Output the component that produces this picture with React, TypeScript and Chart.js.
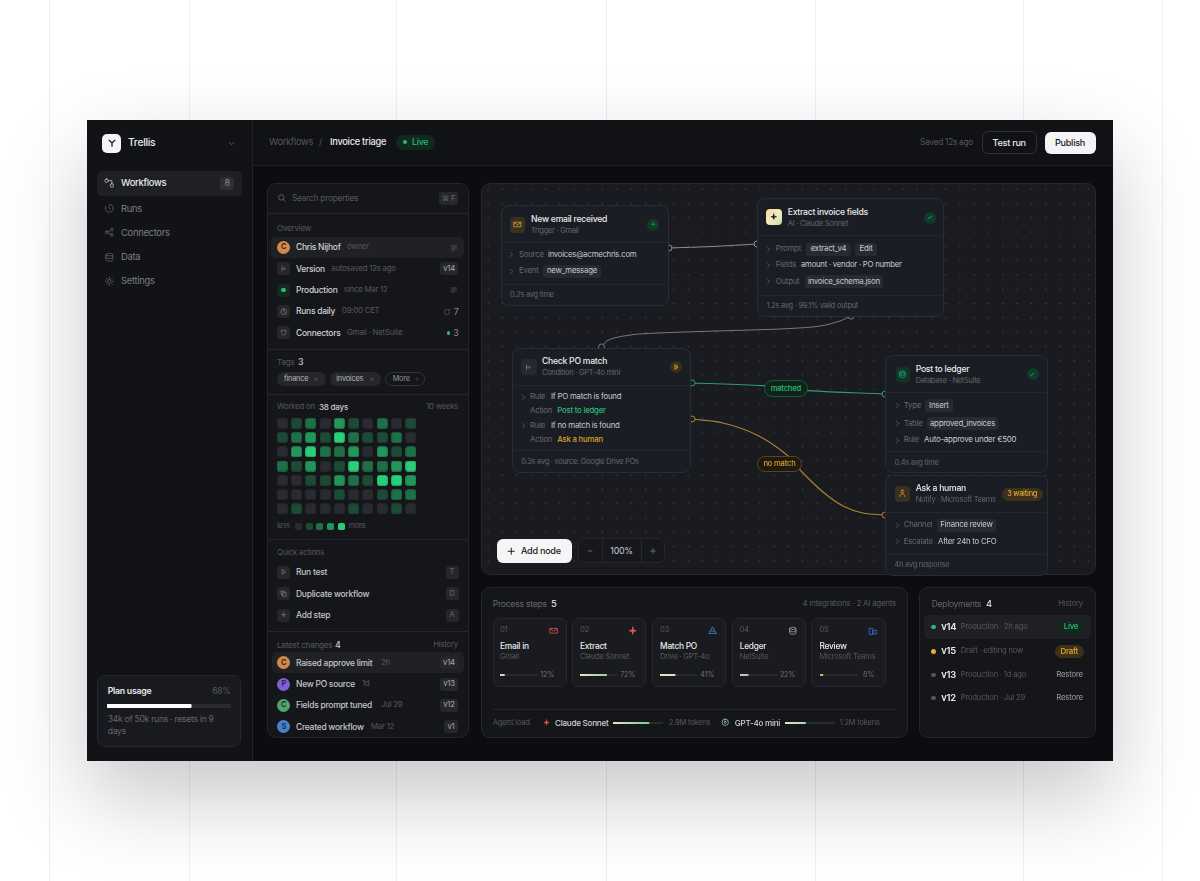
import React, { useEffect, useRef } from "react";
import { Chart, registerables } from "chart.js";
Chart.register(...registerables);

// ---------- data ----------
const heatLevels = [
  [0, 1, 2, 0, 3, 1, 0, 2, 0, 1],
  [1, 2, 3, 1, 4, 2, 1, 1, 2, 0],
  [0, 3, 4, 2, 2, 3, 0, 3, 1, 2],
  [2, 1, 3, 0, 1, 4, 2, 2, 3, 4],
  [0, 0, 1, 1, 3, 2, 1, 4, 4, 3],
  [0, 0, 0, 0, 1, 0, 0, 1, 2, 2],
  [0, 1, 0, 0, 0, 1, 0, 0, 1, 0],
];
const heatColors = ["#2a2b30", "#1c4a36", "#1f7048", "#229658", "#27d077"];
const stepNums = ["01", "02", "03", "04", "05"];
const stepNames = ["Email in", "Extract", "Match PO", "Ledger", "Review"];
const stepSubs = ["Gmail", "Claude Sonnet", "Drive · GPT-4o", "NetSuite", "Microsoft Teams"];
const stepPercents = [12, 72, 41, 22, 8];
const agentNames = ["Claude Sonnet", "GPT-4o mini"];
const agentPercents = [72, 41];
const agentTokens = ["2.9M tokens", "1.2M tokens"];
const planPercent = 68;
const edgeEmailExtract = [{ x: 669, y: 248 }, { x: 712, y: 246.5 }, { x: 757, y: 244 }];
const edgeExtractCheck = [
  { x: 601.5, y: 347 }, { x: 606, y: 341.5 }, { x: 614, y: 338 }, { x: 630, y: 335 }, { x: 647, y: 333.5 },
  { x: 700, y: 331.5 }, { x: 750, y: 330 }, { x: 790, y: 328.5 }, { x: 820, y: 326 }, { x: 840, y: 321 }, { x: 851, y: 316 },
];
const edgeMatched = [{ x: 692, y: 383 }, { x: 763, y: 385.7 }, { x: 808, y: 390.7 }, { x: 885, y: 394 }];
const edgeNoMatch = [
  { x: 692, y: 419 }, { x: 723, y: 423 }, { x: 757, y: 435 }, { x: 787, y: 455 }, { x: 802, y: 472 },
  { x: 823, y: 492 }, { x: 843, y: 506 }, { x: 863, y: 513 }, { x: 885, y: 515 },
];
const overviewRows = [
  ["Chris Nijhof", "owner"], ["Version", "autosaved 12s ago"], ["Production", "since Mar 12"],
  ["Runs daily", "09:00 CET"], ["Connectors", "Gmail · NetSuite"],
];
const navItems = ["Workflows", "Runs", "Connectors", "Data", "Settings"];
const quickActions = ["Run test", "Duplicate workflow", "Add step"];
const quickKeys = ["T", "D", "A"];
const changes = ["Raised approve limit", "New PO source", "Fields prompt tuned", "Created workflow"];
const changeWhen = ["2h", "1d", "Jul 29", "Mar 12"];
const changeVersion = ["v14", "v13", "v12", "v1"];
const changeInitial = ["C", "P", "C", "S"];
const deployVersions = ["v14", "v15", "v13", "v12"];
const deployNotes = ["Production · 2h ago", "Draft · editing now", "Production · 1d ago", "Production · Jul 29"];

// ---------- chart pieces ----------
const sprite = (color: string) => {
  const c = document.createElement("canvas");
  c.width = 11; c.height = 11;
  const g = c.getContext("2d")!;
  g.fillStyle = color;
  g.beginPath();
  (g as any).roundRect(0.2, 0.2, 10.6, 10.6, 2.6);
  g.fill();
  return c;
};
const baseOptions: any = {
  animation: false, responsive: false, events: [],
  layout: { padding: 0, autoPadding: false },
  plugins: { legend: { display: false }, tooltip: { enabled: false } },
};

function HeatChart({ x, y, w, h }: any) {
  const ref = useRef<HTMLCanvasElement>(null);
  useEffect(() => {
    const sprites = heatColors.map(sprite);
    const pts: any[] = [];
    heatLevels.forEach((row, r) => row.forEach((v, c) => pts.push({ x: c, y: r, v })));
    const chart = new Chart(ref.current!, {
      type: "scatter",
      data: { datasets: [{ data: pts, pointStyle: (ctx: any) => sprites[ctx.raw.v], pointRadius: 5.5 } as any] },
      options: {
        ...baseOptions,
        scales: {
          x: { display: false, min: -0.5, max: 9.5 },
          y: { display: false, min: -0.5, max: 6.5, reverse: true },
        },
      },
    });
    return () => chart.destroy();
  }, []);
  return <canvas ref={ref} width={w} height={h} style={{ position: "absolute", left: x, top: y, width: w, height: h }} />;
}

function EdgeChart({ x, y, w, h }: any) {
  const ref = useRef<HTMLCanvasElement>(null);
  useEffect(() => {
    const ds = (data: any[], color: string, width: number) => ({
      data, showLine: true, borderColor: color, borderWidth: width, tension: 0.35,
      pointRadius: (c: any) => (c.dataIndex === 0 || c.dataIndex === data.length - 1 ? 3 : 0),
      pointBackgroundColor: "#191b20", pointBorderColor: color, pointBorderWidth: 1,
    });
    const chart = new Chart(ref.current!, {
      type: "scatter",
      data: {
        datasets: [
          ds(edgeEmailExtract, "#8d8f94", 1),
          ds(edgeExtractCheck, "#77797e", 1),
          ds(edgeMatched, "#2c9c69", 1.2),
          ds(edgeNoMatch, "#a9842f", 1.2),
        ] as any,
      },
      options: {
        ...baseOptions,
        scales: {
          x: { display: false, min: x, max: x + w },
          y: { display: false, min: y, max: y + h, reverse: true },
        },
      },
    });
    return () => chart.destroy();
  }, []);
  return <canvas ref={ref} width={w} height={h} style={{ position: "absolute", left: x, top: y, width: w, height: h }} />;
}

function Bar({ x, y, w, h, value, from, to, track = "#2a2b30" }: any) {
  const ref = useRef<HTMLCanvasElement>(null);
  useEffect(() => {
    const chart = new Chart(ref.current!, {
      type: "bar",
      data: {
        labels: [""],
        datasets: [
          {
            data: [value], order: 0, borderRadius: h / 2, borderSkipped: false,
            backgroundColor: (c: any) => {
              const a = c.chart.chartArea;
              if (!a) return from;
              const fill = c.chart.ctx.createLinearGradient(a.left, 0, a.left + ((a.right - a.left) * value) / 100, 0);
              fill.addColorStop(0, from);
              fill.addColorStop(1, to);
              return fill;
            },
          },
          { data: [100], order: 1, backgroundColor: track, borderRadius: h / 2, borderSkipped: false },
        ] as any,
      },
      options: {
        ...baseOptions,
        indexAxis: "y",
        datasets: { bar: { barPercentage: 1, categoryPercentage: 1 } },
        scales: {
          x: { display: false, min: 0, max: 100, stacked: false },
          y: { display: false, stacked: true },
        },
      } as any,
    });
    return () => chart.destroy();
  }, []);
  return <canvas ref={ref} width={w} height={h} style={{ position: "absolute", left: x, top: y, width: w, height: h }} />;
}

// ---------- helpers ----------
const K = 0.92;
const DIM = "#65676d";
const DIM2 = "#55575d";
const TXT = "#c9cace";
const HI = "#e9eaec";
const GREEN = "#2bbb74";
const AMBER = "#d9a02f";
const FONT = "Inter, 'Noto Sans', sans-serif";

const T = ({ x, y, s = 9.3, c = TXT, w = 400, r, m, children }: any) => (
  <div
    style={{
      position: "absolute", top: y, whiteSpace: "nowrap", fontSize: s * K, color: c, fontWeight: w, lineHeight: 1, fontFamily: FONT, letterSpacing: "-0.03em",
      ...(r != null ? { right: 1200 - r, transform: "translateY(-50%)" } : m != null ? { left: m, transform: "translate(-50%,-50%)" } : { left: x, transform: "translateY(-50%)" }),
    }}
  >
    {children}
  </div>
);
const B = ({ x, y, w, h, bg = "transparent", r = 0, b, style, children }: any) => (
  <div
    style={{
      position: "absolute", left: x, top: y, width: w, height: h, background: bg, borderRadius: r, boxSizing: "border-box",
      border: b ? `1px solid ${b}` : undefined, ...style,
    }}
  >
    {children}
  </div>
);
const HL = ({ x, y, w, c = "#24262b" }: any) => <B x={x} y={y} w={w} h={1} bg={c} />;

const ICONS: Record<string, string> = {
  mail: "M3 6h18v12H3zM3 7l9 6 9-6",
  star: "M12 3l2 7 7 2-7 2-2 7-2-7-7-2 7-2z",
  db: "M4 6c0-4 16-4 16 0v12c0 4-16 4-16 0zM4 6c0 4 16 4 16 0M4 12c0 4 16 4 16 0",
  check: "M5 13l4 4 10-10",
  plus: "M12 5v14M5 12h14",
  minus: "M6 12h12",
  chev: "M9 5l7 7-7 7",
  down: "M6 9l6 6 6-6",
  lines: "M4 6h16M4 12h16M4 18h10",
  search: "M11 4a7 7 0 1 0 0 14 7 7 0 0 0 0-14zM21 21l-5-5",
  user: "M12 3a4 4 0 1 0 0 8 4 4 0 0 0 0-8zM5 21c0-5 3-7 7-7s7 2 7 7",
  clock: "M12 3a9 9 0 1 0 0 18 9 9 0 0 0 0-18zM12 7v5l3 2",
  runs: "M12 3a9 9 0 1 1-8 5M12 7v5l3 2",
  conn: "M6 9a3 3 0 1 0 0 6 3 3 0 0 0 0-6zM18 3a3 3 0 1 0 0 6 3 3 0 0 0 0-6zM18 15a3 3 0 1 0 0 6 3 3 0 0 0 0-6zM9 11l6-4M9 13l6 4",
  sun: "M12 8a4 4 0 1 0 0 8 4 4 0 0 0 0-8zM12 2v3M12 19v3M2 12h3M19 12h3M5 5l2 2M17 17l2 2M5 19l2-2M17 7l2-2",
  flow: "M6 2a4 4 0 1 0 0 8 4 4 0 0 0 0-8zM18 13a4 4 0 1 0 0 8 4 4 0 0 0 0-8zM10 6h8v7",
  branch: "M7 5v14M7 12h5M14 9l4 3-4 3",
  play: "M8 5l10 7-10 7z",
  copy: "M9 9h11v11H9zM4 4h11v5M4 4v11h5",
  x: "M6 6l12 12M18 6L6 18",
  refresh: "M20 12a8 8 0 1 1-3-6M20 3v4h-4",
  shield: "M5 4h14v8c0 5-7 8-7 8s-7-3-7-8z",
  teams: "M3 20V6h10v14zM13 11h8v9h-8z",
  drive: "M12 3l9 16H3zM8 13h8",
  arrow: "M7 6a8 8 0 0 1 10 6 8 8 0 0 1-10 6M7 12h7",
  ring: "M12 3a9 9 0 1 0 0 18 9 9 0 0 0 0-18zM12 9a3 3 0 1 0 0 6 3 3 0 0 0 0-6z",
  tree: "M5 5l7 7 7-7M12 12v8",
};
const I = ({ n, x, y, s = 10, c = DIM, f, sw = 2 }: any) => (
  <svg viewBox="0 0 24 24" width={s} height={s} style={{ position: "absolute", left: x - s / 2, top: y - s / 2 }}>
    <path d={ICONS[n]} fill={f ? c : "none"} stroke={c} strokeWidth={sw} strokeLinecap="round" strokeLinejoin="round" />
  </svg>
);
const Dot = ({ x, y, c, s = 4 }: any) => <B x={x - s / 2} y={y - s / 2} w={s} h={s} r={s} bg={c} />;
const Chip = ({ x, y, w, t, h = 13 }: any) => (
  <>
    <B x={x} y={y - h / 2} w={w} h={h} r={3} bg="#282a31" />
    <T m={x + w / 2} y={y} s={8.5} c={TXT}>{t}</T>
  </>
);
const keyColor = (t: string) => (t.startsWith("v") ? "#a9abb0" : DIM);
const Key = ({ x, y, t, w = 13 }: any) => (
  <>
    <B x={x} y={y - 6.5} w={w} h={13} r={3} bg="#26272b" />
    <T m={x + w / 2} y={y} s={8.4} c={keyColor(t)}>{t}</T>
  </>
);
const Avatar = ({ x, y, c, t }: any) => (
  <>
    <B x={x - 6.5} y={y - 6.5} w={13} h={13} r={7} bg={c} />
    <T m={x} y={y} s={8} c="#2a1d12" w={600}>{t}</T>
  </>
);
const IconBox = ({ x, y, n, c = "#8a8c91", bg = "#26272b", s = 13, is = 7.5 }: any) => (
  <>
    <B x={x - s / 2} y={y - s / 2} w={s} h={s} r={3.5} bg={bg} />
    <I n={n} x={x} y={y} s={is} c={c} />
  </>
);
const Node = ({ x, y, w, h, title, sub, icon, divs, footer, titleX }: any) => (
  <>
    <B x={x} y={y} w={w} h={h} r={8} bg="#1b1d24" b="#2a2d35" />
    {icon}
    <T x={titleX} y={divs[0] - 23.5} s={9.4} c={HI} w={500}>{title}</T>
    <T x={titleX} y={divs[0] - 11.5} s={8} c={DIM}>{sub}</T>
    <HL x={x + 1} y={divs[0]} w={w - 2} c="#24262d" />
    <HL x={x + 1} y={divs[1]} w={w - 2} c="#24262d" />
    <T x={x + 9.3} y={divs[1] + 11.7} s={8} c={DIM}>{footer}</T>
  </>
);
const Row = ({ ax, x, y, label }: any) => (
  <>
    {ax != null && <I n="chev" x={ax} y={y} s={7} c="#6a6c72" sw={2.4} />}
    <T x={x} y={y} s={8.5} c={DIM}>{label}</T>
  </>
);

export default function App() {
  document.body.style.margin = "0";
  const stepX = [500, 580, 660, 739.7, 819.5];
  const cardX = [492.5, 572, 652, 731.7, 811.3];
  const pctR = [554, 635, 714, 795, 874];
  const stepBar = [["#d8d8d8", "#cfcfcf"], ["#f0e3ba", "#8fd3a0"], ["#f0e3ba", "#d9e3b5"], ["#c9c9cc", "#bfbfc3"], ["#e0b23c", "#e0b23c"]];
  const stepIcon = [["mail", "#d9524e"], ["star", "#e0584a"], ["drive", "#4a86e0"], ["db", "#a9abb0"], ["teams", "#4a6fd0"]];
  const rowY = [247.3, 268.7, 290, 311.3, 332.7];
  const chgY = [662.5, 684, 705.3, 726.7];
  const chgC = ["#d08a4e", "#7d5fd6", "#4fa56c", "#4a80d4"];
  const chgWhenX = [381, 362, 381, 371];
  const navY = [183, 208.5, 232.7, 257, 281];
  const navI = ["flow", "runs", "conn", "db", "sun"];
  const depY = [627, 651.3, 675, 698];
  const depC = [GREEN, "#e6b02f", "#55575c", "#55575c"];
  return (
    <div style={{ position: "absolute", left: 0, top: 0, width: 1200, height: 881, overflow: "hidden", background: "#fff", fontFamily: FONT, filter: "blur(0.35px)" }}>
      {[49, 189, 396, 606, 815, 1023, 1162].map((gx) => <B key={gx} x={gx} y={0} w={1} h={881} bg="#efeff1" />)}
      <B x={87} y={120} w={1026} h={641} bg="#0c0d10" style={{ boxShadow: "0 36px 80px rgba(0,0,0,.22)" }} />

      {/* sidebar */}
      <B x={87} y={120} w={165} h={641} bg="#121317" />
      <B x={252} y={120} w={1} h={641} bg="#212226" />
      <B x={102.3} y={134} w={18.7} h={18.7} r={5} bg="#f5f5f6" />
      <I n="tree" x={111.6} y={143.3} s={10} c="#17181b" sw={3} />
      <T x={128} y={143} s={11.3} c={HI} w={500}>Trellis</T>
      <I n="down" x={231.5} y={143} s={9} c="#6a6c72" />
      <B x={97} y={171} w={144.7} h={24.7} r={5} bg="#1f2024" />
      {navItems.map((n, i) => (
        <React.Fragment key={n}>
          <I n={navI[i]} x={109} y={navY[i]} s={10.5} c={i === 0 ? "#c9cace" : "#63656b"} sw={1.8} />
          <T x={121} y={navY[i]} s={10.2} c={i === 0 ? HI : "#7c7e84"} w={i === 0 ? 500 : 400}>{n}</T>
        </React.Fragment>
      ))}
      <B x={220} y={176.7} w={14.3} h={13.3} r={3} bg="#2e2f33" />
      <T m={227.2} y={183.4} s={10} c="#8a8c91">8</T>
      <B x={97.3} y={675} w={143.7} h={71.7} r={8} bg="#191a1f" b="#26272c" />
      <T x={107.7} y={691} s={9.5} c={HI} w={600}>Plan usage</T>
      <T r={230.5} y={691} s={9.3} c={DIM2}>{planPercent}%</T>
      <Bar x={107} y={704} w={124} h={4} value={planPercent} from="#ffffff" to="#ffffff" track="#2a2b30" />
      <T x={107.7} y={719} s={9.3} c={DIM}>34k of 50k runs · resets in 9</T>
      <T x={107.7} y={731} s={9.3} c={DIM}>days</T>

      {/* header */}
      <B x={253} y={120} w={860} h={45} bg="#111216" />
      <B x={253} y={165} w={860} h={1} bg="#1d1e22" />
      <T x={269} y={142} s={10.1} c={DIM2}>Workflows</T>
      <T x={319} y={142} s={10.1} c={DIM2}>/</T>
      <T x={330} y={142} s={10.1} c={HI} w={500}>Invoice triage</T>
      <B x={396} y={135} w={39} h={15} r={8} bg="#11291e" />
      <Dot x={405} y={142.3} c={GREEN} />
      <T x={412} y={142.3} s={9.6} c={GREEN} w={500}>Live</T>
      <T x={920} y={142} s={9} c={DIM2}>Saved 12s ago</T>
      <B x={981.7} y={131} w={55} h={23} r={6} b="#2f3035" />
      <T m={1009.2} y={142.5} s={9.9} c={HI} w={500}>Test run</T>
      <B x={1044.5} y={132} w={51.5} h={22} r={6} bg="#f4f4f6" />
      <T m={1070} y={142.8} s={9.9} c="#17181b" w={500}>Publish</T>

      {/* properties panel */}
      <B x={266.5} y={182.7} w={202.5} h={555} r={9} bg="#15161a" b="#25262b" />
      <I n="search" x={281.5} y={198} s={9.5} c={DIM} />
      <T x={292} y={198} s={9.1} c={DIM2}>Search properties</T>
      <B x={438.7} y={191.7} w={19.5} h={13.3} r={3} bg="#26272b" />
      <T m={448.5} y={198.5} s={8.2} c={DIM}>⌘ F</T>
      <HL x={267.5} y={213} w={200.5} />
      <T x={277} y={228} s={8.8} c={DIM2}>Overview</T>
      <B x={271.3} y={236.7} w={192.4} h={21.4} r={5} bg="#202125" />
      {overviewRows.map(([a, b], i) => (
        <React.Fragment key={a}>
          <T x={296} y={rowY[i]} s={9.2} c="#d0d1d4" w={500}>{a}</T>
          <T x={[347, 331.3, 344, 342, 347][i]} y={rowY[i]} s={8.5} c={DIM2}>{b}</T>
        </React.Fragment>
      ))}
      <Avatar x={283.7} y={247.3} c="#d08a4e" t="C" />
      <IconBox x={283.7} y={268.7} n="branch" />
      <B x={277.2} y={283.5} w={13} h={13} r={3.5} bg="#15291f" />
      <Dot x={283.7} y={290} c={GREEN} s={4.5} />
      <IconBox x={283.7} y={311.3} n="clock" />
      <IconBox x={283.7} y={332.7} n="shield" />
      <I n="lines" x={454} y={247.5} s={8} c={DIM} />
      <I n="lines" x={454} y={290.3} s={8} c={DIM} />
      <Key x={439.7} y={268.7} t="v14" w={18.8} />
      <I n="refresh" x={447} y={311.5} s={8} c={DIM} />
      <T r={458.5} y={311.5} s={9.6} c="#8a8c91">7</T>
      <Dot x={448.5} y={333} c={GREEN} s={3.5} />
      <T r={458.5} y={333} s={9.6} c="#8a8c91">3</T>
      <HL x={267.5} y={349} w={200.5} />
      <T x={277} y={362} s={8.8} c={DIM2}>Tags</T>
      <T x={298} y={362} s={9.6} c={TXT} w={500}>3</T>
      <B x={277} y={372} w={48.7} h={14} r={7} bg="#26272b" />
      <T x={284} y={379} s={8} c="#b5b6ba">finance</T>
      <I n="x" x={316} y={379} s={6.5} c={DIM} />
      <B x={329.7} y={372} w={51.6} h={14} r={7} bg="#26272b" />
      <T x={336.3} y={379} s={8} c="#b5b6ba">invoices</T>
      <I n="x" x={372} y={379} s={6.5} c={DIM} />
      <B x={385.3} y={372} w={40} h={14} r={7} b="#303136" />
      <T x={392.7} y={379} s={8} c="#8f9095">More</T>
      <I n="plus" x={416.5} y={379} s={4} c={DIM} />
      <HL x={267.5} y={394} w={200.5} />
      <T x={277} y={407} s={8.5} c={DIM2}>Worked on</T>
      <T x={319} y={407} s={8.8} c={TXT} w={500}>38 days</T>
      <T r={458} y={407} s={8.4} c={DIM2}>10 weeks</T>
      <HeatChart x={275} y={416} w={143} h={100} />
      <T x={277} y={526} s={8} c={DIM2}>less</T>
      {heatColors.map((c, i) => <B key={c} x={295.2 + i * 10.6} y={522.5} w={7} h={7} r={1.8} bg={c} />)}
      <T x={348.7} y={526} s={8} c={DIM2}>more</T>
      <HL x={267.5} y={539} w={200.5} />
      <T x={277} y={553} s={8.5} c={DIM2}>Quick actions</T>
      {quickActions.map((q, i) => {
        const y = [572, 593.7, 615][i];
        return (
          <React.Fragment key={q}>
            <IconBox x={283.5} y={y} n={["play", "copy", "plus"][i]} />
            <T x={296} y={y} s={9.2} c="#c4c5c9" w={500}>{q}</T>
            <Key x={445.5} y={y} t={quickKeys[i]} />
          </React.Fragment>
        );
      })}
      <HL x={267.5} y={631} w={200.5} />
      <T x={277} y={644.5} s={8.9} c={DIM2}>Latest changes</T>
      <T x={335} y={644.5} s={9.6} c={TXT} w={500}>4</T>
      <T r={458} y={644.5} s={8.5} c={DIM2}>History</T>
      <B x={272} y={652.3} w={192} h={21} r={5} bg="#202125" />
      {changes.map((t, i) => (
        <React.Fragment key={t}>
          <Avatar x={283.7} y={chgY[i]} c={chgC[i]} t={changeInitial[i]} />
          <T x={296} y={chgY[i]} s={9.2} c="#c4c5c9" w={500}>{t}</T>
          <T x={chgWhenX[i]} y={chgY[i]} s={8.5} c={DIM2}>{changeWhen[i]}</T>
          <Key x={[440, 440, 440, 444][i]} y={chgY[i]} t={changeVersion[i]} w={[18, 18, 18, 14][i]} />
        </React.Fragment>
      ))}

      {/* flow canvas */}
      <B
        x={481} y={183} w={615} h={392} r={9} b="#26282e" bg="#191b20"
        style={{
          backgroundImage: "radial-gradient(circle, #44474e 0.65px, transparent 1px)",
          backgroundSize: "14.3px 14.3px", backgroundPosition: "-1px -2px",
        }}
      />
      <EdgeChart x={481} y={183} w={615} h={392} />

      {/* email node */}
      <Node x={500.7} y={205.3} w={168} h={101} title="New email received" sub="Trigger · Gmail" titleX={531} divs={[242.3, 283.7]} footer="0.2s avg time"
        icon={<><B x={510} y={217} w={15} h={15.5} r={4} bg="#3a3020" /><I n="mail" x={517.5} y={224.7} s={9} c="#e0a93a" /></>} />
      <B x={647} y={218.5} w={12} h={12} r={6} bg="#123a28" /><I n="plus" x={653} y={224.5} s={6.5} c={GREEN} />
      <Row ax={511.5} x={519} y={254.7} label="Source" /><T x={548} y={254.7} s={8.4} c={TXT}>invoices@acmechris.com</T>
      <Row ax={511.5} x={519} y={271} label="Event" /><Chip x={543.3} y={271} w={57.4} t="new_message" />

      {/* extract node */}
      <Node x={757.3} y={198.3} w={187} h={118.4} title="Extract invoice fields" sub="AI · Claude Sonnet" titleX={787.7} divs={[235, 294.5]} footer="1.2s avg · 99.1% valid output"
        icon={<><B x={766} y={209} w={16} h={16} r={4} bg="#f0dfa0" style={{ background: "linear-gradient(135deg,#f7dca0,#f2eac0 55%,#b7dfa6)" }} /><I n="star" x={774} y={217} s={7.5} c="#1a1a1a" f /></>} />
      <B x={924} y={211.5} w={12} h={12} r={6} bg="#123a28" /><I n="check" x={930} y={217.5} s={6.5} c={GREEN} sw={3} />
      <Row ax={768} x={775.7} y={249} label="Prompt" /><Chip x={806} y={249} w={45} t="extract_v4" /><Chip x={855} y={249} w={22} t="Edit" />
      <Row ax={768} x={775.7} y={265} label="Fields" /><T x={801} y={265} s={8.4} c={TXT}>amount · vendor · PO number</T>
      <Row ax={768} x={775.7} y={281.5} label="Output" /><Chip x={804.7} y={281.5} w={78.3} t="invoice_schema.json" />

      {/* check node */}
      <Node x={512} y={348} w={179} h={125.3} title="Check PO match" sub="Condition · GPT-4o mini" titleX={542} divs={[384.7, 450.3]} footer="0.3s avg · source: Google Drive POs"
        icon={<><B x={521} y={359} w={15.5} h={16} r={4} bg="#26282e" /><I n="branch" x={528.7} y={367} s={8.5} c="#8a8c91" /></>} />
      <B x={670} y={360.7} w={12} h={12} r={6} bg="#3a3018" /><I n="arrow" x={676} y={366.7} s={8} c="#e0a93a" sw={2.6} />
      <Row ax={523} x={530} y={397} label="Rule" /><T x={551} y={397} s={8.5} c={TXT}>If PO match is found</T>
      <Row x={530} y={411} label="Action" /><T x={557.3} y={411} s={8.5} c={GREEN} w={500}>Post to ledger</T>
      <Row ax={523} x={530} y={425.5} label="Rule" /><T x={551} y={425.5} s={8.5} c={TXT}>If no match is found</T>
      <Row x={530} y={439.7} label="Action" /><T x={557.3} y={439.7} s={8.5} c={AMBER} w={500}>Ask a human</T>

      {/* post node */}
      <Node x={885.3} y={355} w={162.4} h={118.3} title="Post to ledger" sub="Database · NetSuite" titleX={915.7} divs={[392, 451]} footer="0.4s avg time"
        icon={<><B x={895.5} y={366.7} w={14.5} h={15} r={4} bg="#12352a" /><I n="db" x={902.7} y={374} s={8.5} c={GREEN} /></>} />
      <B x={1026.7} y={368} w={12} h={12} r={6} bg="#123a28" /><I n="check" x={1032.7} y={374} s={6.5} c={GREEN} sw={3} />
      <Row ax={897} x={903.7} y={405.7} label="Type" /><Chip x={925} y={405.7} w={27.7} t="Insert" />
      <Row ax={897} x={903.7} y={423.5} label="Table" /><Chip x={927} y={423.5} w={71} t="approved_invoices" />
      <Row ax={897} x={903.7} y={440} label="Rule" /><T x={924} y={440} s={8.6} c={TXT}>Auto-approve under €500</T>

      {/* ask node */}
      <Node x={885.3} y={475} w={162.4} h={101} title="Ask a human" sub="Notify · Microsoft Teams" titleX={915.7} divs={[511.7, 553.5]} footer="4h avg response"
        icon={<><B x={895} y={486} w={15} h={15.5} r={4} bg="#3a3020" /><I n="user" x={902.5} y={493.7} s={8.5} c="#e0a93a" /></>} />
      <B x={1001.7} y={487.5} w={41} h={13} r={7} bg="#3d3018" />
      <T m={1022.2} y={494} s={8} c="#e0a93a" w={500}>3 waiting</T>
      <Row ax={897} x={903.7} y={525.3} label="Channel" /><Chip x={937} y={525.3} w={59} t="Finance review" />
      <Row ax={897} x={903.7} y={541.7} label="Escalate" /><T x={938} y={541.7} s={8.5} c={TXT}>After 24h to CFO</T>

      {/* edge labels */}
      <B x={764} y={380} w={43.7} h={16.7} r={8.5} bg="#0f231c" b="#1f5a40" />
      <T m={785.8} y={388.5} s={8.3} c={GREEN} w={500}>matched</T>
      <B x={756.7} y={456} w={45.6} h={16} r={8} bg="#1f1a10" b="#58461f" />
      <T m={779.5} y={464} s={8.3} c={AMBER} w={500}>no match</T>

      {/* canvas controls */}
      <B x={497.3} y={539.3} w={74.4} h={23.4} r={6} bg="#f5f5f6" />
      <I n="plus" x={511} y={551} s={10.5} c="#17181b" sw={2.2} />
      <T x={521} y={551} s={9.9} c="#17181b" w={500}>Add node</T>
      <B x={578} y={538.3} w={87} h={25} r={6} bg="#16181d" b="#26282e" />
      <B x={602} y={539} w={1} h={24} bg="#26282e" />
      <B x={641} y={539} w={1} h={24} bg="#26282e" />
      <I n="minus" x={590} y={551} s={8} c="#8a8c91" />
      <T m={621.5} y={551} s={9.6} c={TXT}>100%</T>
      <I n="plus" x={652.5} y={551} s={8} c="#8a8c91" />

      {/* process steps */}
      <B x={481} y={586.7} w={426.7} h={151} r={9} bg="#15161a" b="#25262b" />
      <T x={492.7} y={603.5} s={9.4} c={DIM}>Process steps</T>
      <T x={551} y={603.5} s={10} c={TXT} w={600}>5</T>
      <T r={896} y={603.5} s={8.6} c={DIM2}>4 integrations · 2 AI agents</T>
      {stepNames.map((n, i) => (
        <React.Fragment key={n}>
          <B x={cardX[i]} y={617.7} w={74.3} h={69} r={6} bg="#1a1b20" b="#26272c" />
          <T x={stepX[i]} y={630} s={8.2} c={DIM2}>{stepNums[i]}</T>
          <I n={stepIcon[i][0]} x={cardX[i] + 61} y={630.3} s={9.5} c={stepIcon[i][1]} f={i === 1} />
          <T x={stepX[i]} y={646} s={9.1} c={HI} w={500}>{n}</T>
          <T x={stepX[i]} y={657.3} s={8.2} c={DIM2}>{stepSubs[i]}</T>
          <Bar x={stepX[i]} y={674} w={37} h={2} value={stepPercents[i]} from={stepBar[i][0]} to={stepBar[i][1]} />
          <T r={pctR[i]} y={675} s={7.8} c="#6d6f75">{stepPercents[i]}%</T>
        </React.Fragment>
      ))}
      <HL x={492.7} y={709.3} w={403.5} />
      <T x={492.7} y={722.7} s={8.4} c={DIM2}>Agent load</T>
      <I n="star" x={546.3} y={722.7} s={7} c="#e0584a" f />
      <T x={555} y={722.7} s={8.8} c="#d0d1d4" w={500}>{agentNames[0]}</T>
      <Bar x={613} y={721.7} w={50} h={2} value={agentPercents[0]} from="#f0e3ba" to="#6fce95" />
      <T x={668.7} y={722.7} s={8.2} c={DIM2}>{agentTokens[0]}</T>
      <I n="ring" x={725.7} y={722.7} s={8.5} c="#9fdcb4" />
      <T x={734.7} y={722.7} s={8.8} c="#d0d1d4" w={500}>{agentNames[1]}</T>
      <Bar x={784.5} y={721.7} w={50} h={2} value={agentPercents[1]} from="#f0e3ba" to="#9fdcb4" />
      <T x={839.7} y={722.7} s={8.2} c={DIM2}>{agentTokens[1]}</T>

      {/* deployments */}
      <B x={919.3} y={587} w={176.4} h={151} r={9} bg="#15161a" b="#25262b" />
      <T x={931.7} y={603.5} s={9.2} c={DIM}>Deployments</T>
      <T x={986} y={603.5} s={10} c={TXT} w={600}>4</T>
      <T r={1083} y={603.5} s={8.5} c={DIM2}>History</T>
      <B x={924} y={615} w={167.3} h={24} r={5} bg="#1f2024" />
      {deployVersions.map((v, i) => (
        <React.Fragment key={v}>
          <Dot x={933.5} y={depY[i]} c={depC[i]} s={4.5} />
          <T x={941.3} y={depY[i]} s={10.2} c={HI} w={600}>{v}</T>
          <T x={960.7} y={depY[i]} s={8.4} c={DIM2}>{deployNotes[i]}</T>
        </React.Fragment>
      ))}
      <B x={1058} y={620.7} w={25.7} h={13} r={6.5} bg="#11291e" />
      <T m={1071} y={627.2} s={8.6} c={GREEN} w={500}>Live</T>
      <B x={1054.7} y={645} w={29.3} h={12.7} r={6.5} bg="#3d3018" />
      <T m={1069.3} y={651.5} s={8.6} c="#e0a93a" w={500}>Draft</T>
      <T r={1083} y={675} s={8.6} c="#9a9ca1">Restore</T>
      <T r={1083} y={698} s={8.6} c="#9a9ca1">Restore</T>
    </div>
  );
}
